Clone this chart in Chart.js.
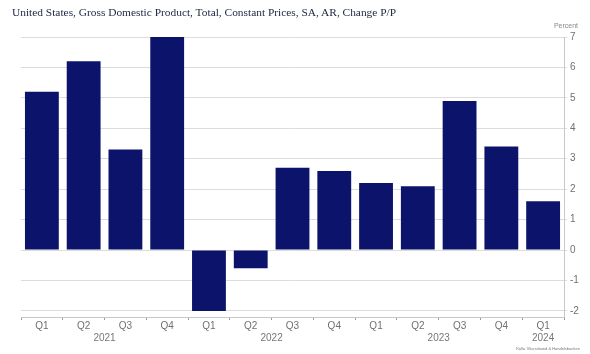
<!DOCTYPE html>
<html>
<head>
<meta charset="utf-8">
<script src="https://cdn.jsdelivr.net/npm/chart.js@4/dist/chart.umd.min.js"></script>
<style>
    body { margin: 0; background: #fff; }
    #wrap { position: relative; width: 590px; height: 354px; }
    #title {
        position: absolute; left: 12px; top: 6px;
        font-family: "Liberation Serif", serif; font-size: 11.4px; color: #1d2540;
        white-space: nowrap;
    }
    #unit {
        position: absolute; right: 12px; top: 22px;
        font-family: "Liberation Sans", sans-serif; font-size: 7px; color: #8a8a8a;
    }
    #source {
        position: absolute; right: 10px; top: 346px;
        font-family: "Liberation Sans", sans-serif; font-size: 4px; color: #777;
    }
    canvas { position: absolute; left: 0; top: 0; }
</style>
</head>
<body>
<div id="wrap">
    <canvas id="gdpChart" width="590" height="354"></canvas>
    <div id="title">United States, Gross Domestic Product, Total, Constant Prices, SA, AR, Change P/P</div>
    <div id="unit">Percent</div>
    <div id="source">Källa: Macrobond &amp; Handelsbanken</div>
</div>
<script>
// ========================================
// Data
// ========================================
const quarters = ['Q1', 'Q2', 'Q3', 'Q4', 'Q1', 'Q2', 'Q3', 'Q4', 'Q1', 'Q2', 'Q3', 'Q4', 'Q1'];
const gdpChange = [5.2, 6.2, 3.3, 7.0, -2.0, -0.6, 2.7, 2.6, 2.2, 2.1, 4.9, 3.4, 1.6];
const years = ['2021', '2022', '2023', '2024'];
const yearStart = [0, 4, 8, 12];
const yearEnd = [3, 7, 11, 12];
const yTicks = [-2, -1, 0, 1, 2, 3, 4, 5, 6, 7];

// ========================================
// Year labels under the quarters
// ========================================
const yearLabels = {
    id: 'yearLabels',
    afterDraw(chart) {
        const x = chart.scales.x;
        const ctx = chart.ctx;
        ctx.save();
        ctx.font = '10px "Liberation Sans", sans-serif';
        ctx.fillStyle = '#777777';
        ctx.textAlign = 'center';
        ctx.textBaseline = 'middle';
        years.forEach((y, i) => {
            const cx = (x.getPixelForValue(yearStart[i]) + x.getPixelForValue(yearEnd[i])) / 2;
            ctx.fillText(y, cx, 338);
        });
        ctx.restore();
    }
};

// ========================================
// Chart
// ========================================
new Chart(document.getElementById('gdpChart'), {
    type: 'bar',
    data: {
        labels: quarters,
        datasets: [{
            data: gdpChange,
            backgroundColor: '#0b136b',
            barPercentage: 0.81,
            categoryPercentage: 1
        }]
    },
    options: {
        responsive: false,
        animation: false,
        layout: { padding: { left: 21, top: 37, right: 0, bottom: 0 } },
        plugins: {
            legend: { display: false },
            tooltip: { enabled: false }
        },
        scales: {
            x: {
                offset: true,
                grid: {
                    offset: true,
                    drawOnChartArea: false,
                    tickLength: 3,
                    color: '#9a9a9a'
                },
                border: { color: '#c8c8c8' },
                ticks: {
                    color: '#707070',
                    font: { family: 'Liberation Sans', size: 10 },
                    padding: 0,
                    maxRotation: 0
                },
                afterFit(scale) { scale.height = 37; }
            },
            y: {
                position: 'right',
                min: -2.2,
                max: 7,
                afterBuildTicks(scale) {
                    scale.ticks = yTicks.map(v => ({ value: v }));
                },
                grid: {
                    color: '#dcdcdc',
                    tickLength: 3
                },
                border: { color: '#c8c8c8' },
                ticks: {
                    color: '#707070',
                    font: { family: 'Liberation Sans', size: 10 },
                    padding: 3
                },
                afterFit(scale) { scale.width = 26; }
            }
        }
    },
    plugins: [yearLabels]
});
</script>
</body>
</html>
